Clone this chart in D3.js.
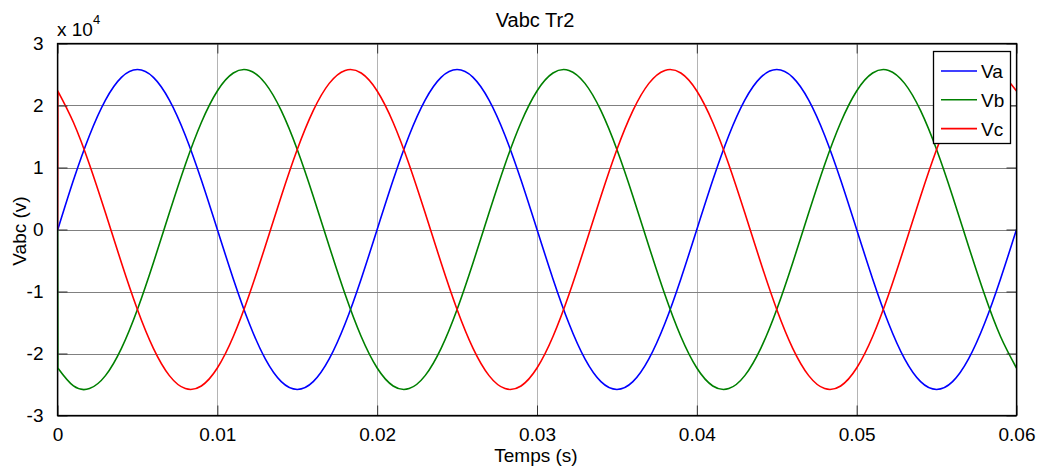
<!DOCTYPE html>
<html><head><meta charset="utf-8">
<script src="https://cdn.jsdelivr.net/npm/d3@7"></script>
<style>
html,body{margin:0;padding:0;background:#fff;}
svg{display:block;font-family:"Liberation Sans",Arial,sans-serif;}
</style></head>
<body><svg id="c" width="1041" height="472"></svg>
<script>
// ---- data ----
const title = "Vabc Tr2";
const xLabel = "Temps (s)";
const yLabel = "Vabc (v)";
const seriesNames = ["Va", "Vb", "Vc"];
const seriesColors = ["#0000ff", "#008000", "#ff0000"];
const xTicks = [0, 0.01, 0.02, 0.03, 0.04, 0.05, 0.06];
const xTickLabels = ["0", "0.01", "0.02", "0.03", "0.04", "0.05", "0.06"];
const yTicks = [-30000, -20000, -10000, 0, 10000, 20000, 30000];
const yTickLabels = ["-3", "-2", "-1", "0", "1", "2", "3"];

const time = [0, 0.00002,
  0.001, 0.002, 0.003, 0.004, 0.005, 0.006, 0.007, 0.008, 0.009, 0.010,
  0.011, 0.012, 0.013, 0.014, 0.015, 0.016, 0.017, 0.018, 0.019, 0.020,
  0.021, 0.022, 0.023, 0.024, 0.025, 0.026, 0.027, 0.028, 0.029, 0.030,
  0.031, 0.032, 0.033, 0.034, 0.035, 0.036, 0.037, 0.038, 0.039, 0.040,
  0.041, 0.042, 0.043, 0.044, 0.045, 0.046, 0.047, 0.048, 0.049, 0.050,
  0.051, 0.052, 0.053, 0.054, 0.055, 0.056, 0.057, 0.058, 0.059, 0.060];

const va = [0, 0,
  7973, 15165, 20872, 24538, 25800, 24538, 20872, 15165, 7973, 0,
  -7973, -15165, -20872, -24538, -25800, -24538, -20872, -15165, -7973, 0,
  7973, 15165, 20872, 24538, 25800, 24538, 20872, 15165, 7973, 0,
  -7973, -15165, -20872, -24538, -25800, -24538, -20872, -15165, -7973, 0,
  7973, 15165, 20872, 24538, 25800, 24538, 20872, 15165, 7973, 0,
  -7973, -15165, -20872, -24538, -25800, -24538, -20872, -15165, -7973, 0];

const vb = [0, -22344,
  -25235, -25658, -23568, -19172, -12900, -5364, 2696, 10493, 17263, 22344,
  25235, 25658, 23568, 19172, 12900, 5364, -2696, -10493, -17263, -22344,
  -25235, -25658, -23568, -19172, -12900, -5364, 2696, 10493, 17263, 22344,
  25235, 25658, 23568, 19172, 12900, 5364, -2696, -10493, -17263, -22344,
  -25235, -25658, -23568, -19172, -12900, -5364, 2696, 10493, 17263, 22344,
  25235, 25658, 23568, 19172, 12900, 5364, -2696, -10493, -17263, -22344];

const vc = [0, 22344,
  17263, 10493, 2696, -5364, -12900, -19172, -23568, -25658, -25235, -22344,
  -17263, -10493, -2696, 5364, 12900, 19172, 23568, 25658, 25235, 22344,
  17263, 10493, 2696, -5364, -12900, -19172, -23568, -25658, -25235, -22344,
  -17263, -10493, -2696, 5364, 12900, 19172, 23568, 25658, 25235, 22344,
  17263, 10493, 2696, -5364, -12900, -19172, -23568, -25658, -25235, -22344,
  -17263, -10493, -2696, 5364, 12900, 19172, 23568, 25658, 25235, 22344];

// ---- layout ----
const L = 57.5, R = 1016.5, T = 43.5, B = 415.5;
const svg = d3.select("#c");
const x = d3.scaleLinear().domain([0, 0.06]).range([L, R]);
const y = d3.scaleLinear().domain([-30000, 30000]).range([B, T]);

// grid
const g = svg.append("g");
g.selectAll(".vg").data(xTicks).join("line")
  .attr("x1", d => Math.round(x(d)) + 0.5).attr("x2", d => Math.round(x(d)) + 0.5)
  .attr("y1", T).attr("y2", B).attr("stroke", "#b4b4b4").attr("stroke-width", 1);
g.selectAll(".hg").data(yTicks).join("line")
  .attr("y1", d => Math.round(y(d)) + 0.5).attr("y2", d => Math.round(y(d)) + 0.5)
  .attr("x1", L).attr("x2", R).attr("stroke", "#808080").attr("stroke-width", 1);

// series: initial jump (linear) then smooth curve through the samples
const seriesData = [va, vb, vc];
const smooth = d3.line().x(d => x(d[0])).y(d => y(d[1])).curve(d3.curveNatural);
function pathFor(vals) {
  const pts = vals.map((v, i) => [time[i], v]);
  const curve = smooth(pts.slice(1));
  return `M${x(pts[0][0])},${y(pts[0][1])}L` + curve.slice(1);
}
svg.append("clipPath").attr("id", "clp").append("rect")
  .attr("x", L).attr("y", T).attr("width", R - L).attr("height", B - T);
svg.append("g").attr("clip-path", "url(#clp)")
  .selectAll("path").data(seriesData).join("path")
  .attr("d", d => pathFor(d)).attr("fill", "none")
  .attr("stroke", (d, i) => seriesColors[i]).attr("stroke-width", 1.6)
  .attr("stroke-linejoin", "round");

// axes (inward ticks)
const tk = 10;
const axB = d3.axisBottom(x).tickValues(xTicks).tickFormat((d, i) => xTickLabels[i]).tickSizeInner(-tk).tickSizeOuter(0).tickPadding(12);
const axT = d3.axisTop(x).tickValues(xTicks).tickFormat("").tickSizeInner(-tk).tickSizeOuter(0);
const axL = d3.axisLeft(y).tickValues(yTicks).tickFormat((d, i) => yTickLabels[i]).tickSizeInner(-tk).tickSizeOuter(0).tickPadding(14);
const axR = d3.axisRight(y).tickValues(yTicks).tickFormat("").tickSizeInner(-tk).tickSizeOuter(0);
function style(sel) {
  sel.select(".domain").remove();
  sel.selectAll("line").attr("stroke", "#333").attr("stroke-width", 1);
  sel.selectAll("text").attr("fill", "#000").style("font-size", "19px").style("font-family", "Liberation Sans, Arial, sans-serif");
}
svg.append("g").attr("transform", `translate(0,${B})`).call(axB).call(style);
svg.append("g").attr("transform", `translate(0,${T})`).call(axT).call(style);
svg.append("g").attr("transform", `translate(${L},0)`).call(axL).call(style);
svg.append("g").attr("transform", `translate(${R},0)`).call(axR).call(style);

// box
svg.append("rect").attr("x", L).attr("y", T).attr("width", R - L).attr("height", B - T)
  .attr("fill", "none").attr("stroke", "#000").attr("stroke-width", 1.3);

// labels
svg.append("text").attr("x", 535).attr("y", 27).attr("text-anchor", "middle")
  .style("font-size", "20px").text(title);
svg.append("text").attr("x", 536).attr("y", 462).attr("text-anchor", "middle")
  .style("font-size", "19px").text(xLabel);
svg.append("text").attr("transform", "translate(26,231) rotate(-90)").attr("text-anchor", "middle")
  .style("font-size", "19px").text(yLabel);
const ex = svg.append("text").attr("x", 57).attr("y", 36).style("font-size", "19px");
ex.append("tspan").text("x 10");
ex.append("tspan").attr("dy", -12).style("font-size", "13px").text("4");

// legend
const lg = svg.append("g");
lg.append("rect").attr("x", 933.5).attr("y", 51.5).attr("width", 77).attr("height", 92)
  .attr("fill", "#fff").attr("stroke", "#000").attr("stroke-width", 1.3);
seriesNames.forEach((n, i) => {
  const yy = 71 + i * 28.8;
  lg.append("line").attr("x1", 941).attr("x2", 977).attr("y1", yy).attr("y2", yy)
    .attr("stroke", seriesColors[i]).attr("stroke-width", 1.6);
  lg.append("text").attr("x", 981).attr("y", yy + 7).style("font-size", "19px").text(n);
});
</script></body></html>
